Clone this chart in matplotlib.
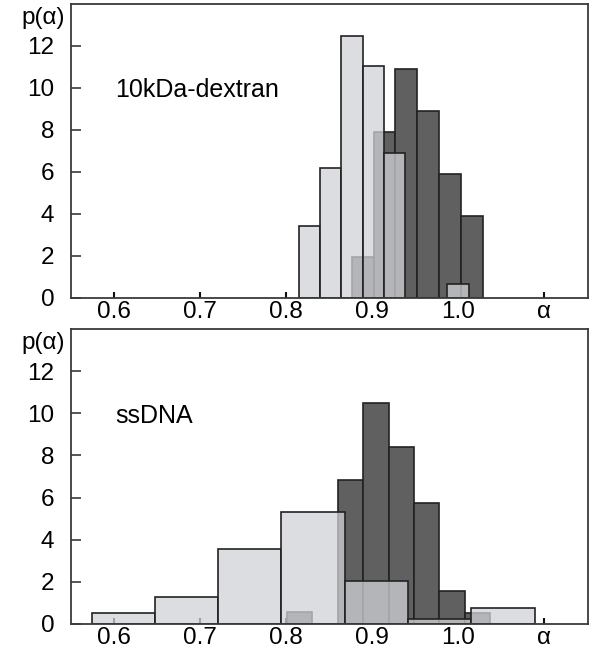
import numpy as np
import matplotlib
matplotlib.use("Agg")
import matplotlib.pyplot as plt

plt.rcParams['font.family'] = ['Liberation Sans', 'DejaVu Sans']

# ---- data ----
top_dark_edges = [0.8763, 0.9016, 0.9269, 0.9522, 0.9775, 1.0028, 1.0281]
top_dark_heights = [1.97, 7.9, 10.89, 8.9, 5.92, 3.92]
top_light_edges = [0.815, 0.8396, 0.8642, 0.8888, 0.9134, 0.938, 0.9626, 0.9872, 1.0118]
top_light_heights = [3.43, 6.2, 12.48, 11.06, 6.89, 0, 0, 0.65]

bot_dark_edges = [0.801, 0.8305, 0.860, 0.8895, 0.919, 0.9485, 0.978, 1.0075, 1.037]
bot_dark_heights = [0.55, 0, 6.83, 10.48, 8.40, 5.76, 1.57, 0.54]
bot_light_edges = [0.574, 0.6475, 0.721, 0.7945, 0.868, 0.9415, 1.015, 1.0885]
bot_light_heights = [0.51, 1.30, 3.56, 5.30, 2.02, 0.25, 0.75]

x_ticks = [0.6, 0.7, 0.8, 0.9, 1.0, 1.1]
x_ticklabels = ['0.6', '0.7', '0.8', '0.9', '1.0', 'α']
y_ticks = [0, 2, 4, 6, 8, 10, 12]
panel_labels = ['10kDa-dextran', 'ssDNA']

W, H = 589, 651
fig = plt.figure(figsize=(W / 100, H / 100), dpi=100)

dark_face = '#606060'
light_face = (0.82, 0.824, 0.84, 0.75)
edge = '#222222'
spine_c = '#3a3a3a'
fs = 17.5

def setup(ax, label, dark_e, dark_h, light_e, light_h):
    dark_e = np.array(dark_e); light_e = np.array(light_e)
    ax.bar(dark_e[:-1], dark_h, width=np.diff(dark_e), align='edge',
           facecolor=dark_face, edgecolor=edge, linewidth=1.2, zorder=2)
    ax.bar(light_e[:-1], light_h, width=np.diff(light_e), align='edge',
           facecolor=light_face, edgecolor=edge, linewidth=1.2, zorder=3)
    ax.set_xlim(0.55, 1.15)
    ax.set_ylim(0, 14)
    ax.set_xticks(x_ticks)
    ax.set_xticklabels(x_ticklabels)
    ax.set_yticks(y_ticks)
    ax.tick_params(axis='y', direction='in', length=7, width=1.2, color=spine_c,
                   pad=12, labelsize=fs)
    ax.tick_params(axis='x', direction='in', length=4, width=1.5, color='#111111',
                   pad=2.5, labelsize=fs)
    for s in ax.spines.values():
        s.set_linewidth(1.3)
        s.set_color(spine_c)
        s.set_zorder(5)
    ax.text(0.601, 9.55, label, fontsize=18, va='baseline', ha='left')
    ax.text(-0.012, 0.99, 'p(α)', transform=ax.transAxes, fontsize=fs,
            va='top', ha='right')

l = 71 / W
r = 587.5 / W
ax1 = fig.add_axes([l, 1 - 298 / H, r - l, (298 - 4) / H])
ax2 = fig.add_axes([l, 1 - 624 / H, r - l, (624 - 329) / H])
setup(ax1, panel_labels[0], top_dark_edges, top_dark_heights, top_light_edges, top_light_heights)
setup(ax2, panel_labels[1], bot_dark_edges, bot_dark_heights, bot_light_edges, bot_light_heights)

fig.savefig('out.png', dpi=100)
